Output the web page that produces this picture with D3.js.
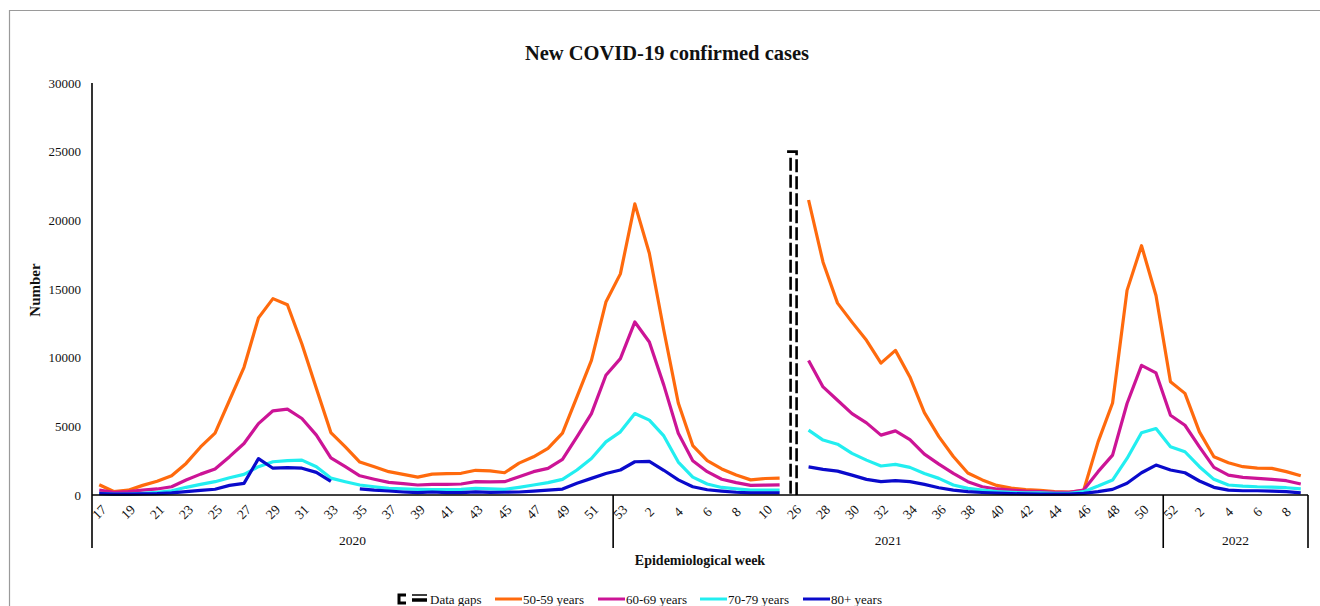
<!DOCTYPE html>
<html>
<head>
<meta charset="utf-8">
<script src="https://cdn.jsdelivr.net/npm/d3@7"></script>
<style>
  html, body { margin: 0; padding: 0; background: #fff; }
  svg { display: block; }
  text { font-family: "Liberation Serif", "Times New Roman", serif; fill: #111; }
</style>
</head>
<body>
<svg id="chart" width="1320" height="606"></svg>
<script>
// ---------- data ----------
const weeks = [
  "17","18","19","20","21","22","23","24","25","26","27","28","29","30","31","32","33","34","35","36",
  "37","38","39","40","41","42","43","44","45","46","47","48","49","50","51","52","53",
  "1","2","3","4","5","6","7","8","9","10","11",
  "26",
  "27","28","29","30","31","32","33","34","35","36","37","38","39","40","41","42","43","44","45","46",
  "47","48","49","50","51","52",
  "1","2","3","4","5","6","7","8","9"
];
const yearLabels = ["2020", "2021", "2022"];
const yearStartIdx = [0, 36, 74];       // first category index of each year block
const gapIdx = 48;                      // category carrying the data-gap marker
const gapTop = 25000;
const yTicks = [0, 5000, 10000, 15000, 20000, 25000, 30000];

const s50 = [750,250,350,700,1000,1400,2300,3500,4500,6900,9300,12900,14300,13850,11000,7750,4550,3500,2400,2050,
  1700,1500,1300,1520,1550,1580,1800,1760,1620,2320,2780,3400,4500,7150,9800,14050,16100,
  21200,17600,12000,6700,3600,2500,1900,1450,1100,1200,1230,
  null,
  21480,16950,13970,12590,11260,9600,10530,8600,6000,4250,2800,1600,1100,700,500,400,330,250,220,330,
  3870,6700,14900,18150,14530,8250,
  7400,4600,2780,2350,2060,1960,1940,1700,1400];
const s60 = [360,190,240,360,440,600,1090,1520,1890,2790,3750,5200,6130,6250,5570,4360,2700,2060,1400,1150,
  920,830,730,780,780,800,970,960,970,1330,1700,1940,2590,4240,5930,8720,9930,
  12600,11140,8000,4500,2500,1700,1150,900,700,720,740,
  null,
  9800,7870,6900,5930,5250,4360,4670,4040,2980,2250,1570,970,600,440,360,290,250,200,200,360,
  1700,2900,6660,9440,8890,5810,
  5080,3510,2010,1450,1280,1210,1140,1040,800];
const s70 = [120,70,70,120,190,310,560,770,970,1260,1500,2060,2420,2500,2540,2060,1230,970,730,600,
  480,440,410,400,400,410,480,440,410,560,730,900,1140,1820,2660,3870,4600,
  5930,5450,4300,2400,1300,800,550,450,350,350,350,
  null,
  4720,4000,3700,3030,2540,2110,2230,2010,1570,1210,730,480,360,250,200,150,150,120,120,240,
  650,1090,2660,4530,4840,3510,
  3150,2060,1140,730,650,600,580,530,440];
const s80 = [100,60,60,80,100,150,250,330,420,700,850,2650,1950,2000,1950,1650,1000,null,450,350,
  290,220,170,220,180,180,230,190,200,220,280,350,430,850,1210,1570,1820,
  2420,2450,1800,1100,600,380,280,200,150,150,150,
  null,
  2050,1870,1740,1450,1140,970,1040,970,770,530,360,250,180,130,100,80,70,60,60,120,
  240,410,850,1620,2180,1820,
  1620,1020,560,360,310,310,280,240,150];

const seriesNames = ["50-59 years", "60-69 years", "70-79 years", "80+ years"];
const seriesValues = [s50, s60, s70, s80];
const seriesColors = ["#ff6a0d", "#cc1496", "#22eef0", "#0a0acb"];

// ---------- layout ----------
const svg = d3.select("#chart");
const pLeft = 92, pRight = 1308, pTop = 83, pBase = 495, pBottomLine = 548;

// outer frame
svg.append("path").attr("d", "M9.5,606 L9.5,10.5 L1320,10.5")
  .attr("fill", "none").attr("stroke", "#9a9a9a").attr("stroke-width", 1.2);

svg.append("text").attr("x", 667).attr("y", 60).attr("text-anchor", "middle")
  .attr("font-size", 20.5).attr("font-weight", "bold").text("New COVID-19 confirmed cases");

const idx = d3.range(weeks.length);
const x = d3.scalePoint().domain(idx).range([pLeft, pRight]).padding(0.5);
const step = x.step();
const y = d3.scaleLinear().domain([0, 30000]).range([pBase, pTop]);

// y axis
const yAxis = svg.append("g").attr("transform", `translate(${pLeft},0)`)
  .call(d3.axisLeft(y).tickValues(yTicks).tickSize(0).tickPadding(11).tickFormat(d3.format("d")));
yAxis.select(".domain").remove();
yAxis.selectAll("text").attr("font-size", 13).attr("font-family", "Liberation Serif, serif").attr("fill", "#222");

svg.append("text").attr("transform", `translate(40,290) rotate(-90)`)
  .attr("text-anchor", "middle").attr("font-size", 15).attr("font-weight", "bold").text("Number");

// lines
const line = d3.line()
  .defined(d => d.v !== null)
  .x(d => x(d.i)).y(d => y(d.v));

seriesValues.forEach((vals, k) => {
  svg.append("path")
    .datum(vals.map((v, i) => ({ i, v })))
    .attr("fill", "none").attr("stroke", seriesColors[k]).attr("stroke-width", 3.2)
    .attr("stroke-linejoin", "round").attr("d", line);
});

// data gap bracket
const gx = x(gapIdx);
svg.append("path")
  .attr("d", `M${gx - 7},${y(gapTop)} L${gx + 2.5},${y(gapTop)} L${gx + 2.5},${pBase}`)
  .attr("fill", "none").attr("stroke", "#000").attr("stroke-width", 2.6)
  .attr("stroke-dasharray", "13,4");
svg.append("path")
  .attr("d", `M${gx - 3.5},${y(gapTop) + 6} L${gx - 3.5},${pBase}`)
  .attr("fill", "none").attr("stroke", "#000").attr("stroke-width", 2.6)
  .attr("stroke-dasharray", "13,4");

// x axis lines
svg.append("line").attr("x1", pLeft).attr("x2", pRight).attr("y1", pBase).attr("y2", pBase)
  .attr("stroke", "#000").attr("stroke-width", 1.6);
svg.append("line").attr("x1", pLeft).attr("x2", pLeft).attr("y1", pTop).attr("y2", pBottomLine)
  .attr("stroke", "#000").attr("stroke-width", 1.6);
const seps = yearStartIdx.slice(1).map(i => x(i) - step / 2).concat([pRight]);
seps.forEach(sx => {
  svg.append("line").attr("x1", sx).attr("x2", sx).attr("y1", pBase).attr("y2", pBottomLine)
    .attr("stroke", "#000").attr("stroke-width", 1.6);
});

// week labels (every second category)
svg.append("g").selectAll("text")
  .data(idx.filter(i => i % 2 === 0))
  .join("text")
  .attr("transform", i => `translate(${x(i)},${512}) rotate(-45)`)
  .attr("text-anchor", "middle").attr("dominant-baseline", "central")
  .attr("font-size", 13.5).attr("fill", "#222")
  .text(i => weeks[i]);

// year labels
const bounds = [pLeft].concat(seps);
yearLabels.forEach((lab, k) => {
  svg.append("text").attr("x", (bounds[k] + bounds[k + 1]) / 2).attr("y", 545)
    .attr("text-anchor", "middle").attr("font-size", 13.5).attr("fill", "#222").text(lab);
});

svg.append("text").attr("x", (pLeft + pRight) / 2).attr("y", 565).attr("text-anchor", "middle")
  .attr("font-size", 14).attr("font-weight", "bold").text("Epidemiological week");

// legend
const ly = 599;
const lg = svg.append("g");
lg.append("path").attr("d", `M406,${ly - 4} L399,${ly - 4} L399,${ly + 4} L406,${ly + 4}`)
  .attr("fill", "none").attr("stroke", "#000").attr("stroke-width", 3);
lg.append("line").attr("x1", 412).attr("x2", 427).attr("y1", ly - 4).attr("y2", ly - 4)
  .attr("stroke", "#000").attr("stroke-width", 1.5);
lg.append("line").attr("x1", 412).attr("x2", 427).attr("y1", ly + 1).attr("y2", ly + 1)
  .attr("stroke", "#000").attr("stroke-width", 3.5);
lg.append("text").attr("x", 430).attr("y", ly).attr("dominant-baseline", "central")
  .attr("font-size", 13).text("Data gaps");
const legX = [495, 598, 700, 803];
seriesNames.forEach((n, k) => {
  lg.append("line").attr("x1", legX[k]).attr("x2", legX[k] + 27).attr("y1", ly).attr("y2", ly)
    .attr("stroke", seriesColors[k]).attr("stroke-width", 3);
  lg.append("text").attr("x", legX[k] + 28).attr("y", ly).attr("dominant-baseline", "central")
    .attr("font-size", 13).text(n);
});
</script>
</body>
</html>
